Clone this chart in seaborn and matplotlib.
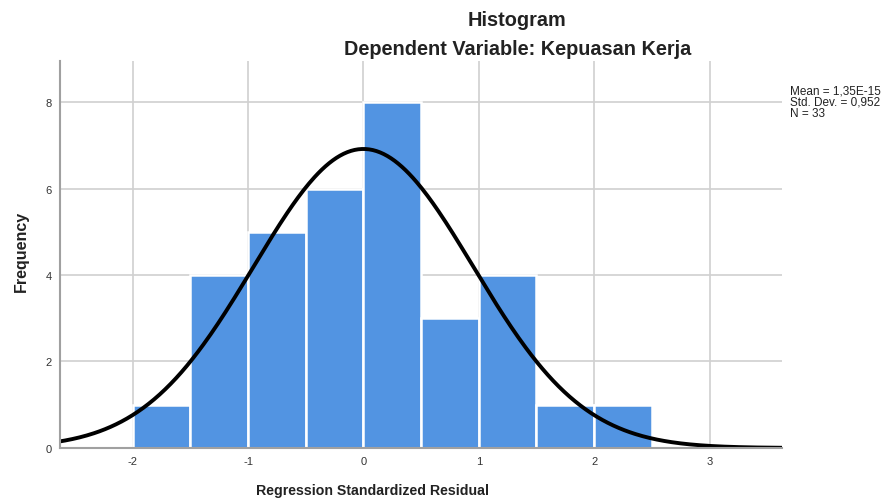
import numpy as np
import pandas as pd
import seaborn as sns
import matplotlib.pyplot as plt

# Histogram of standardized residuals
bin_edges = [-2.0, -1.5, -1.0, -0.5, 0.0, 0.5, 1.0, 1.5, 2.0, 2.5]
counts = [1, 4, 5, 6, 8, 3, 4, 1, 1]
mean = 1.35e-15
std_dev = 0.952
n_obs = 33
x_ticks = [-2, -1, 0, 1, 2, 3]
y_ticks = [0, 2, 4, 6, 8]

sns.set_style("white")
plt.rcParams['font.family'] = ['Liberation Sans', 'DejaVu Sans']
plt.rcParams['axes.unicode_minus'] = False

centers = [(a + b) / 2 for a, b in zip(bin_edges[:-1], bin_edges[1:])]
hist_df = pd.DataFrame({'resid': centers, 'count': counts})

# fitted normal curve scaled to frequency
xs = np.linspace(-2.65, 3.65, 400)
width = bin_edges[1] - bin_edges[0]
ys = n_obs * width / (std_dev * np.sqrt(2 * np.pi)) * np.exp(-0.5 * ((xs - mean) / std_dev) ** 2)
curve_df = pd.DataFrame({'x': xs, 'y': ys})

fig = plt.figure(figsize=(8.95, 5.02), dpi=100)
ax = fig.add_axes([0.067, 0.1056, 0.807, 0.771])

ax.set_xlim(-2.63, 3.63)
ax.set_ylim(0, 8.95)
ax.set_xticks(x_ticks)
ax.set_yticks(y_ticks)
ax.grid(True, color='#d0d0d0', linewidth=1.2)
ax.set_axisbelow(True)

sns.histplot(data=hist_df, x='resid', weights='count', bins=bin_edges, ax=ax,
             color='#5294e2', alpha=1, edgecolor='white', linewidth=1.8)
sns.lineplot(data=curve_df, x='x', y='y', ax=ax, color='black', linewidth=2.8)

for s in ['top', 'right']:
    ax.spines[s].set_visible(False)
for s in ['left', 'bottom']:
    ax.spines[s].set_color('#a0a0a0')
    ax.spines[s].set_linewidth(1.5)

ax.tick_params(axis='both', length=0, labelsize=8, colors='#333333', pad=6)
ax.set_xlabel('')
ax.set_ylabel('')
fig.text(0.416, 0.022, 'Regression Standardized Residual', ha='center', va='center',
         fontsize=10.2, fontweight='bold', color='#222222')
fig.text(0.024, 0.5, 'Frequency', ha='center', va='center', rotation=90,
         fontsize=11.5, fontweight='bold', color='#222222')

fig.text(0.578, 0.96, 'Histogram', ha='center', va='center', fontsize=14.3,
         fontweight='bold', color='#222222')
fig.text(0.578, 0.901, 'Dependent Variable: Kepuasan Kerja', ha='center', va='center',
         fontsize=14.3, fontweight='bold', color='#222222')

mean_txt = f'{mean:.2E}'.replace('.', ',').replace('E-0', 'E-')
sd_txt = f'{std_dev:.3f}'.replace('.', ',')
fig.text(0.883, 0.817, f'Mean = {mean_txt}', fontsize=8.5, color='#222222', va='center')
fig.text(0.883, 0.795, f'Std. Dev. = {sd_txt}', fontsize=8.5, color='#222222', va='center')
fig.text(0.883, 0.773, f'N = {n_obs}', fontsize=8.5, color='#222222', va='center')

fig.savefig('out.png', dpi=100)
